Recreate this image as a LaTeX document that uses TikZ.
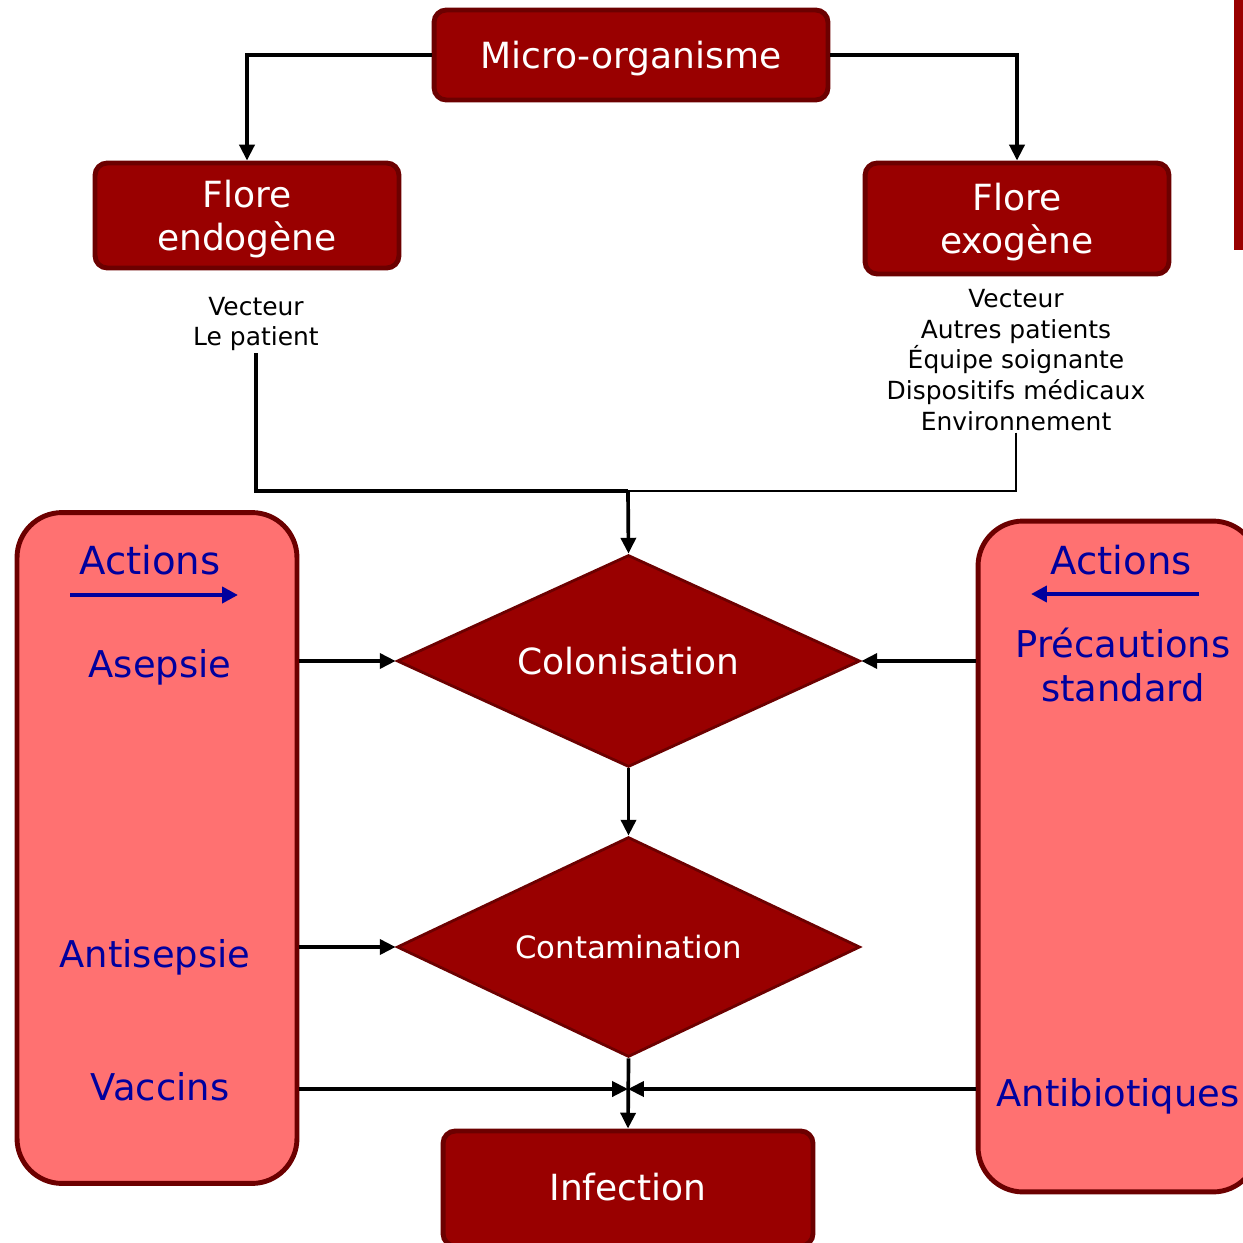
\documentclass[tikz,border=0pt]{standalone}
\usepackage{fontspec}
\setmainfont{DejaVu Sans}
\usepackage{tikz}
\usetikzlibrary{arrows.meta, positioning, shapes.geometric}
\definecolor{darkred}{HTML}{990000}
\definecolor{edgered}{HTML}{6C0000}
\definecolor{salmon}{HTML}{FF7171}
\definecolor{navy}{HTML}{00009E}
\newcommand{\boxfont}{\fontsize{20.5}{24.5}\selectfont}
\newcommand{\diafont}{\fontsize{17.5}{21}\selectfont}
\newcommand{\actfont}{\fontsize{21}{24.5}\selectfont}
\newcommand{\vectfont}{\fontsize{14.2}{17.4}\selectfont}
\newcommand{\lowered}[2][3pt]{\raisebox{-#1}[\height][\depth]{\begin{tabular}{@{}c@{}}#2\end{tabular}}}

\begin{document}
\begin{tikzpicture}[
    x=0.02cm, y=-0.02cm,
    >={Triangle[length=9pt, width=8.5pt]},
    box/.style={draw=edgered, line width=2.8pt, fill=darkred, rounded corners=7pt, text=white, font=\boxfont, align=center, inner sep=0pt},
    losange/.style={diamond, aspect=2.2, draw=edgered, line width=1.6pt, fill=darkred, text=white, inner sep=0pt, minimum width=9.26cm},
    panel/.style={draw=edgered, line width=2.8pt, fill=salmon, rounded corners=0.9cm, minimum width=5.6cm, minimum height=13.42cm},
    act/.style={text=navy, font=\actfont, align=center, inner sep=0pt},
    vect/.style={font=\vectfont, align=center, inner sep=1pt},
    link/.style={->, line width=2.1pt},
    bluearrow/.style={-{Triangle[length=9pt, width=9pt]}, navy, line width=2.4pt},
]
    \useasboundingbox (0,0) rectangle (1243,1243);

    % Top of the chain
    \node[box, minimum width=7.88cm, minimum height=1.8cm] (micro) at (631,55) {\lowered{Micro-organisme}};
    \node[box, minimum width=6.08cm, minimum height=2.1cm] (endo) at (247,215.5) {\lowered{Flore\\endogène}};
    \node[box, minimum width=6.08cm, minimum height=2.22cm] (exo) at (1017,218.5) {\lowered{Flore\\exogène}};
    \fill[darkred] (1234,0) rectangle (1243,250);

    \draw[link] (micro.west) -| (endo.north);
    \draw[link] (micro.east) -| (exo.north);

    % Vectors
    \node[vect] (vecL) at (256,324) {Vecteur\\Le patient};
    \node[vect] (vecR) at (1016,360) {Vecteur\\Autres patients\\Équipe soignante\\Dispositifs médicaux\\Environnement};
    \coordinate (join) at (628,491);

    % Side panels
    \node[panel] (lpanel) at (157,848) {};
    \node[panel] (rpanel) at (1118,856.5) {};

    \node[act, font=\fontsize{22}{26}\selectfont] (actL) at (150,560) {Actions};
    \coordinate (aL1) at (70,595);
    \coordinate (aL2) at (238,595);
    \draw[bluearrow] (aL1) -- (aL2);
    \node[act, anchor=base] (asepsie) at (160,677) {Asepsie};
    \node[act, anchor=base] (antisepsie) at (155,967) {Antisepsie};
    \node[act, anchor=base] (vaccins) at (160,1100) {Vaccins};

    \node[act, font=\fontsize{22}{26}\selectfont] (actR) at (1121,560) {Actions};
    \coordinate (aR1) at (1199,594);
    \coordinate (aR2) at (1031,594);
    \draw[bluearrow] (aR1) -- (aR2);
    \node[act] (precau) at (1123,665) {Précautions\\standard};
    \node[act, anchor=base] (antibio) at (1118,1106) {Antibiotiques};

    % Main chain
    \node[losange, minimum height=4.24cm, font=\boxfont] (colon) at (628.5,661) {Colonisation};
    \node[losange, minimum height=4.4cm, font=\diafont] (contam) at (628.5,947) {Contamination};
    \node[box, minimum width=7.4cm, minimum height=2.3cm] (infect) at (628,1188.5) {\lowered[2pt]{Infection}};
    \coordinate (meet) at (628,1089);

    \draw[line width=2.1pt] (vecL.south) |- (join);
    \draw[line width=1.5pt] (vecR.south) |- (join);
    \draw[link] (join) -- (colon.north);
    \draw[link] (colon.south) -- (contam.north);
    \draw[link] (contam.south) -- (infect.north);

    \draw[link] (lpanel.east |- colon.west) -- (colon.west);
    \draw[link] (rpanel.west |- colon.east) -- (colon.east);
    \draw[link] (lpanel.east |- contam.west) -- (contam.west);
    \draw[link] (lpanel.east |- meet) -- (meet);
    \draw[link] (rpanel.west |- meet) -- (meet);
\end{tikzpicture}
\end{document}
